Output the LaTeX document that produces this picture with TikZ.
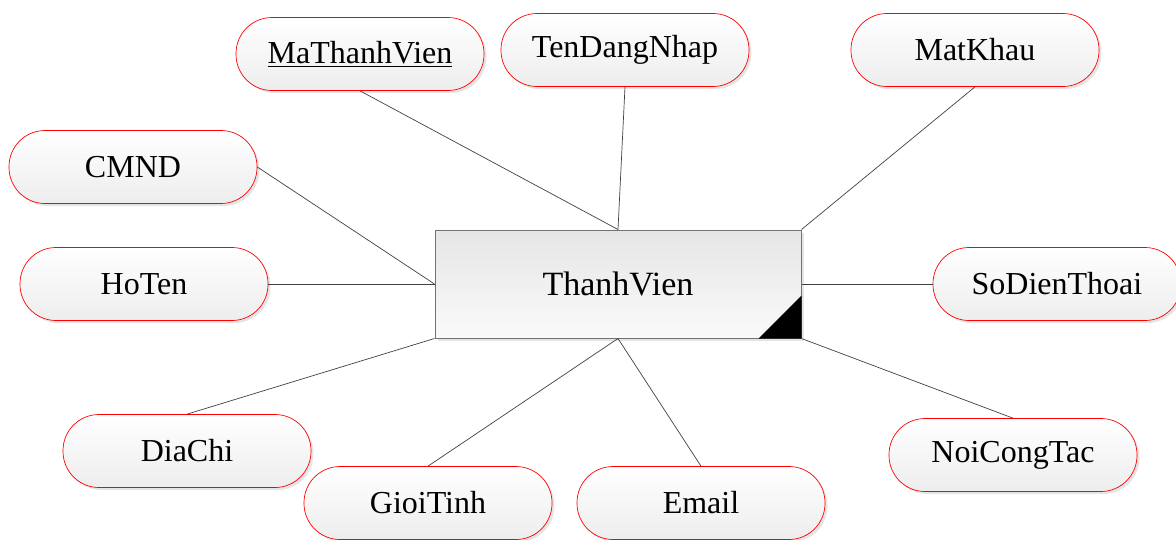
\documentclass[tikz,border=0pt]{standalone}
\usepackage{fontspec}
\setmainfont{Liberation Serif}
\usetikzlibrary{shadows}
\begin{document}
\begin{tikzpicture}[x=1pt,y=-1pt,
  attr/.style={draw=red, line width=0.7pt, rounded corners=36pt,
    minimum width=248pt, minimum height=73pt, inner sep=0pt,
    top color=white, bottom color=black!7,
    drop shadow={shadow xshift=2.5pt, shadow yshift=-2.5pt, fill=black!20, opacity=0.5},
    font=\fontsize{32}{36}\selectfont},
  entity/.style={draw=black!55, line width=1pt,
    minimum width=366pt, minimum height=108pt, inner sep=0pt,
    top color=black!10, bottom color=black!2,
    drop shadow={shadow xshift=2.5pt, shadow yshift=-2.5pt, fill=black!20, opacity=0.5},
    font=\fontsize{34}{40}\selectfont},
  link/.style={draw=black!75, line width=0.7pt}]
  \useasboundingbox (0,0) rectangle (1176,539);

  % entity
  \node[entity] (tv) at (618,284) {ThanhVien};
  \fill (tv.south east) -- ([xshift=-43pt]tv.south east) -- ([yshift=43pt]tv.south east) -- cycle;

  % attributes
  \node[attr] (mtv)  at (360,54)  {\underline{MaThanhVien}};
  \node[attr] (tdn)  at (625,50)  {TenDangNhap};
  \node[attr] (mk)   at (975,50)  {MatKhau};
  \node[attr] (cmnd) at (133,167) {CMND};
  \node[attr] (ht)   at (144,284) {HoTen};
  \node[attr] (sdt)  at (1057,284) {SoDienThoai};
  \node[attr] (dc)   at (187,451) {DiaChi};
  \node[attr] (gt)   at (428,503) {GioiTinh};
  \node[attr] (em)   at (701,503) {Email};
  \node[attr] (nct)  at (1013,455) {NoiCongTac};

  % links
  \draw[link] (mtv.south) -- (tv.north);
  \draw[link] (tdn.south) -- (tv.north);
  \draw[link] (mk.south) -- (tv.north east);
  \draw[link] (cmnd.east) -- (tv.west);
  \draw[link] (ht.east) -- (tv.west);
  \draw[link] (sdt.west) -- (tv.east);
  \draw[link] (dc.north) -- (tv.south west);
  \draw[link] (gt.north) -- (tv.south);
  \draw[link] (em.north) -- (tv.south);
  \draw[link] (nct.north) -- (tv.south east);
\end{tikzpicture}
\end{document}
